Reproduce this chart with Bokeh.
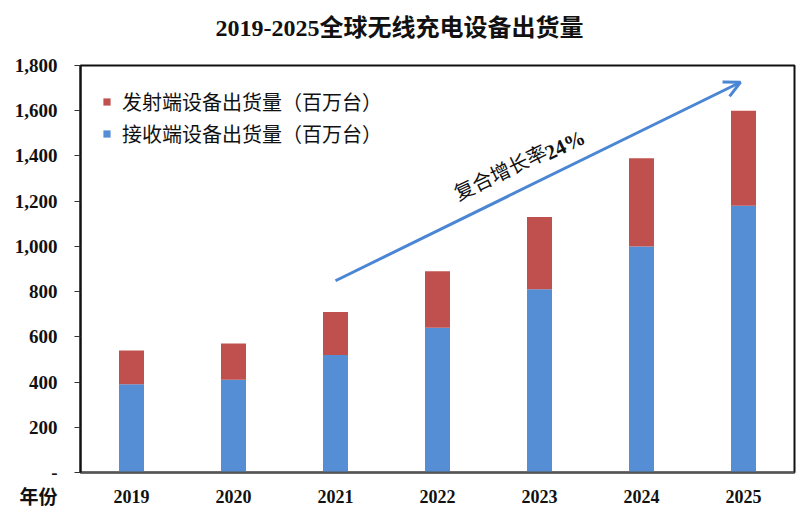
from bokeh.plotting import figure
from bokeh.models import (Range1d, FixedTicker, NumeralTickFormatter, Label, Arrow,
                          OpenHead, Legend, LegendItem, ColumnDataSource)
from bokeh.embed import file_html
from bokeh.resources import INLINE

# Shipments of wireless charging equipment (million units)
years = ["2019", "2020", "2021", "2022", "2023", "2024", "2025"]
receiver = [390, 410, 520, 640, 810, 1000, 1180]
transmitter = [150, 160, 190, 250, 320, 390, 420]
y_ticks = [0, 200, 400, 600, 800, 1000, 1200, 1400, 1600, 1800]
x_caption = "年份"

SERIF_CJK = "'Liberation Serif', 'Noto Sans CJK SC'"
CJK = "'Noto Sans CJK SC'"
BLUE = "#558ED5"
RED = "#C0504D"

xs = [i + 0.5 for i in range(len(years))]
src = ColumnDataSource(dict(x=xs, receiver=receiver, transmitter=transmitter))

p = figure(width=811, height=513, output_backend="svg", toolbar_location=None,
           x_range=Range1d(0, len(years)), y_range=Range1d(0, 1800),
           min_border_left=80, min_border_right=17, min_border_top=65,
           min_border_bottom=41)
p.background_fill_color = "white"
p.border_fill_color = "white"
p.outline_line_color = "#111111"
p.outline_line_width = 2
p.xgrid.visible = False
p.ygrid.visible = False

# title (an empty second line lifts it towards the top edge)
p.title.text = "2019-2025全球无线充电设备出货量\n "
p.title.align = "left"
p.title.offset = 135
p.title.vertical_align = "top"
p.title.standoff = -7
p.title.text_font = SERIF_CJK
p.title.text_font_style = "bold"
p.title.text_font_size = "24px"
p.title.text_color = "#111111"

stack = p.vbar_stack(["receiver", "transmitter"], x="x", width=0.245,
                     color=[BLUE, RED], line_color=None, source=src)

# y axis; the zero label also carries the category-axis caption underneath
p.yaxis.ticker = FixedTicker(ticks=y_ticks)
p.yaxis.formatter = NumeralTickFormatter(format="0,0")
p.yaxis.major_label_overrides = {0: "\n-\n" + x_caption}
p.yaxis.major_label_text_font = SERIF_CJK
p.yaxis.major_label_text_font_style = "bold"
p.yaxis.major_label_text_font_size = "19px"
p.yaxis.major_label_text_color = "#111111"
p.yaxis.major_tick_out = 6
p.yaxis.major_tick_in = 0
p.yaxis.minor_tick_line_color = None
p.yaxis.major_tick_line_color = "#333333"
p.yaxis.axis_line_color = "#111111"
p.yaxis.axis_line_width = 2
p.yaxis.major_label_standoff = 17

# x axis
p.xaxis.ticker = FixedTicker(ticks=xs)
p.xaxis.major_label_overrides = {x: y for x, y in zip(xs, years)}
p.xaxis.major_label_text_font = SERIF_CJK
p.xaxis.major_label_text_font_style = "bold"
p.xaxis.major_label_text_font_size = "18px"
p.xaxis.major_label_text_color = "#111111"
p.xaxis.major_tick_line_color = None
p.xaxis.minor_tick_line_color = None
p.xaxis.axis_line_color = "#555555"
p.xaxis.axis_line_width = 2
p.xaxis.major_label_standoff = 11

# legend
legend = Legend(items=[LegendItem(label="发射端设备出货量（百万台）", renderers=[stack[1]]),
                       LegendItem(label="接收端设备出货量（百万台）", renderers=[stack[0]])],
                location="top_left", orientation="vertical",
                glyph_width=9, glyph_height=9, label_height=22, spacing=3,
                label_standoff=11, padding=24, margin=22,
                border_line_color=None, background_fill_alpha=0,
                label_text_font=CJK, label_text_font_size="20px",
                label_text_color="#111111")
p.add_layout(legend)

# growth arrow
p.add_layout(Arrow(x_start=2.5, y_start=848, x_end=6.47, y_end=1726,
                   line_color="#4A86D4", line_width=3,
                   end=OpenHead(size=16, line_color="#4A86D4", line_width=3)))

ang = 0.452
p.add_layout(Label(x=4.11, y=1331, text="复合增长率", angle=ang,
                   text_align="center", text_baseline="middle",
                   text_font=CJK, text_font_size="20px", text_color="#111111"))
p.add_layout(Label(x=4.75, y=1448, text="24%", angle=ang,
                   text_align="center", text_baseline="middle",
                   text_font=SERIF_CJK, text_font_style="bold",
                   text_font_size="21px", text_color="#111111"))

open("out.html", "w").write(file_html(p, INLINE))
